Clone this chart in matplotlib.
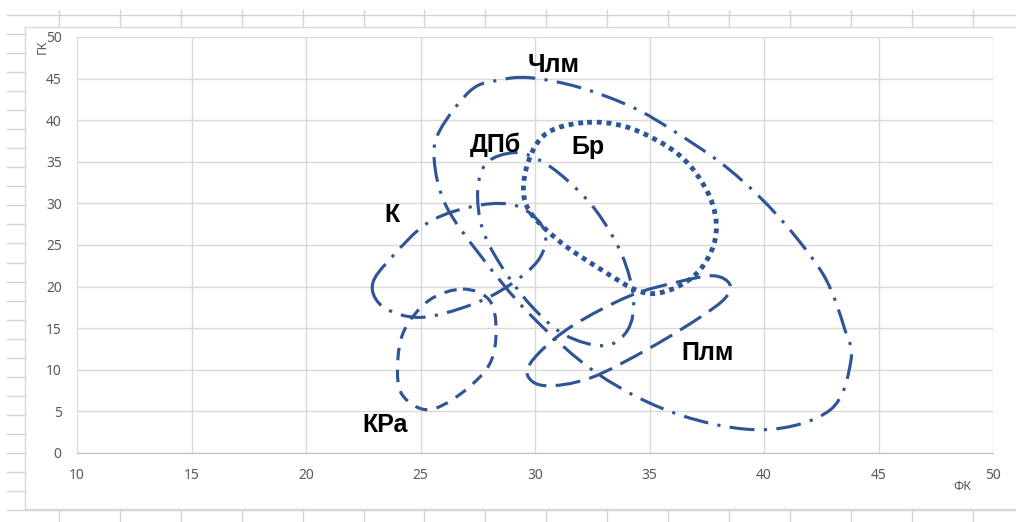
#!/usr/bin/env python3
import numpy as np
import matplotlib
matplotlib.use('Agg')
import matplotlib.pyplot as plt
from matplotlib.path import Path
from matplotlib.patches import PathPatch
from matplotlib.lines import Line2D

# closed loops: (ФК, ГК)
chlm_x = [29.8, 28.4, 27.2, 25.85, 25.6, 26.1, 27.6, 29.8, 32.8, 36.3, 40.0, 42.9, 43.8, 43.5, 42.7, 41.35, 39.8, 38.1, 36.0, 34.3, 32.0]
chlm_y = [45.1, 44.8, 43.6, 38.8, 35.2, 29.8, 23.8, 16.6, 9.4, 4.6, 2.8, 5.2, 11.2, 15.1, 20.9, 26.1, 30.8, 34.9, 38.8, 41.5, 43.9]

dpb_x = [29.1, 27.9, 27.5, 27.7, 28.5, 29.8, 31.3, 33.05, 34.05, 34.3, 33.8, 32.7, 31.4, 30.2]
dpb_y = [36.1, 34.9, 31.6, 27.0, 22.6, 17.8, 14.2, 12.9, 14.8, 18.6, 23.8, 29.0, 32.8, 35.2]

br_x = [32.1, 30.4, 29.6, 29.65, 31.0, 32.8, 34.6, 35.9, 37.2, 37.9, 37.6, 36.3, 34.1]
br_y = [39.7, 38.2, 34.0, 29.6, 25.6, 22.2, 19.4, 19.6, 22.0, 26.2, 31.0, 35.8, 39.1]

k_x = [22.9, 23.7, 25.4, 27.6, 29.3, 30.4, 30.2, 28.9, 27.2, 25.0, 23.4]
k_y = [20.2, 23.4, 27.8, 29.8, 29.6, 26.8, 23.4, 20.2, 17.8, 16.3, 17.5]

kra_x = [26.85, 28.0, 28.3, 28.0, 26.7, 25.3, 24.2, 24.0, 24.3, 25.4]
kra_y = [19.7, 18.4, 14.8, 10.6, 7.0, 5.2, 7.0, 10.6, 14.8, 18.4]

plm_x = [29.65, 30.4, 32.4, 35.0, 37.2, 38.3, 38.5, 37.8, 36.3, 34.15, 31.7, 30.2]
plm_y = [9.6, 8.1, 9.0, 12.6, 16.3, 18.6, 20.3, 21.3, 20.6, 18.9, 15.4, 12.1]

names = ['Члм', 'ДПб', 'Бр', 'К', 'КРа', 'Плм']
label_x = [30.8, 28.25, 32.3, 23.75, 23.45, 37.55]
label_y = [46.6, 37.0, 36.8, 28.6, 3.4, 12.0]

BLUE = '#2F5597'
GRID = '#D9D9D9'
TXT = '#595959'


def smooth_loop(x, y):
    # closed smoothed curve through the points, like Excel's smoothed line
    p = np.column_stack([x, y])
    n = len(p)
    verts = [p[0]]
    codes = [Path.MOVETO]
    for i in range(n):
        p0, p1, p2, p3 = p[i - 1], p[i], p[(i + 1) % n], p[(i + 2) % n]
        verts += [p1 + (p2 - p0) / 6, p2 - (p3 - p1) / 6, p2]
        codes += [Path.CURVE4] * 3
    return Path(verts, codes)


plt.rcParams['font.family'] = ['Noto Sans', 'DejaVu Sans']
fig = plt.figure(figsize=(10.16, 5.22), dpi=100)

W, H = 1016.0, 522.0


def fline(x0, y0, x1, y1, c='#D4D4D4'):
    fig.add_artist(Line2D([x0 / W, x1 / W], [1 - y0 / H, 1 - y1 / H],
                          transform=fig.transFigure, color=c, lw=1))


# spreadsheet cells around the chart
for r in range(27):
    yy = 15 + 19.04 * r
    if r in (0, 26):
        fline(7, yy, W, yy)
    else:
        fline(7, yy, 25, yy)
for c in range(16):
    xx = 59 + 60.9 * c
    fline(xx, 10, xx, 27)
    fline(xx, 510, xx, H)
# chart area border
fline(25, 27, W, 27, GRID)
fline(25, 509, W, 509, GRID)
fline(25, 27, 25, 509, GRID)

ax = fig.add_axes([77 / W, 1 - 453 / H, (993 - 77) / W, (453 - 37) / H])
ax.set_xlim(10, 50)
ax.set_ylim(0, 50)
ax.set_xticks(np.arange(10, 51, 5))
ax.set_yticks(np.arange(0, 51, 5))
ax.grid(True, color=GRID, lw=1)
ax.set_axisbelow(True)
for s in ['top', 'right', 'left']:
    ax.spines[s].set_visible(False)
ax.spines['bottom'].set_color('#BFBFBF')
ax.tick_params(length=0, labelsize=10, colors=TXT)
ax.tick_params(axis='y', pad=11)
ax.tick_params(axis='x', pad=11)

loops = [
    (chlm_x, chlm_y, (0, (8, 3, 1, 3)), 2.25),
    (dpb_x, dpb_y, (0, (8, 3, 1, 3, 1, 3)), 2.25),
    (br_x, br_y, (0, (1, 1)), 3.5),
    (k_x, k_y, (0, (8, 3, 1, 3)), 2.25),
    (kra_x, kra_y, (0, (4, 3)), 2.25),
    (plm_x, plm_y, (0, (8, 3)), 2.25),
]
for x, y, ls, lw in loops:
    ax.add_patch(PathPatch(smooth_loop(x, y), fill=False, edgecolor=BLUE,
                           lw=lw, linestyle=ls, capstyle='butt'))

for n, lx, ly in zip(names, label_x, label_y):
    ax.text(lx, ly, n, ha='center', va='center', fontsize=18,
            fontweight='bold', color='black',
            family=['Liberation Sans', 'DejaVu Sans'])

fig.text(42 / W, 1 - 47 / H, 'ГК', rotation=90, ha='center', va='center',
         fontsize=9, color=TXT)
fig.text(962 / W, 1 - 487 / H, 'ФК', ha='center', va='center',
         fontsize=9, color=TXT)

fig.savefig('out.png', dpi=100)
